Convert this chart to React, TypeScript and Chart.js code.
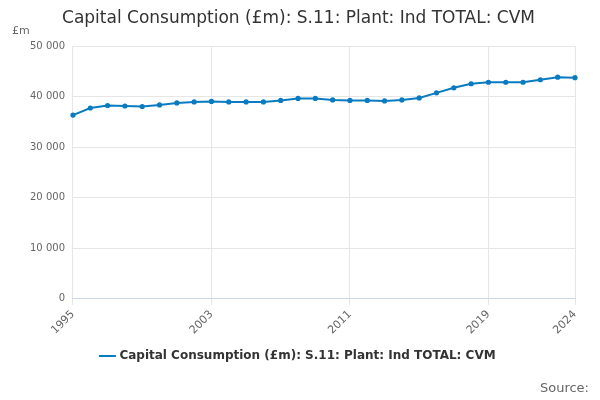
import React, { useEffect, useRef } from "react";
import { Chart, registerables } from "chart.js";
Chart.register(...registerables);

const years = Array.from({ length: 30 }, (_, i) => String(1995 + i));
const values = [36400, 37800, 38300, 38200, 38100, 38400, 38800, 39000, 39100, 39000, 39000, 39000, 39300, 39700, 39700, 39400, 39300, 39300, 39200, 39400, 39800, 40800, 41800, 42600, 42900, 42900, 42900, 43400, 43900, 43800];
const shownYears = ["1995", "2003", "2011", "2019", "2024"];
const seriesName = "Capital Consumption (£m): S.11: Plant: Ind TOTAL: CVM";
const F = "'DejaVu Sans', Verdana, sans-serif";

export default function App() {
  const ref = useRef<HTMLCanvasElement>(null);
  useEffect(() => {
    const ch = new Chart(ref.current!, {
      type: "line",
      data: {
        labels: years,
        datasets: [{
          label: seriesName, data: values, borderColor: "#0a7bc1", backgroundColor: "#0a7bc1",
          borderWidth: 2, pointRadius: 1.6, pointHoverRadius: 3, tension: 0,
        }],
      },
      options: {
        animation: false, responsive: false,
        layout: { padding: { left: 22, right: 25, top: 4, bottom: 28 } },
        plugins: {
          title: { display: true, text: "Capital Consumption (£m): S.11: Plant: Ind TOTAL: CVM", color: "#333", font: { family: F, size: 17, weight: "normal" }, padding: { top: 4, bottom: 18 }, align: "center" },
          legend: { position: "bottom", labels: { usePointStyle: true, pointStyle: "line", color: "#333", font: { family: F, size: 12, weight: "bold" } } },
          tooltip: { enabled: false },
        },
        scales: {
          x: {
            offset: false,
            grid: { color: (c: any) => shownYears.includes(years[c.index]) ? "#e6e6e6" : "rgba(0,0,0,0)", drawTicks: true, tickLength: 6 },
            border: { color: "#ccd6eb" },
            ticks: { autoSkip: false, maxRotation: 45, minRotation: 45, color: "#666", font: { family: F, size: 11 },
              callback: (_v: any, i: number) => shownYears.includes(years[i]) ? years[i] : "" },
          },
          y: {
            min: 0, max: 50000,
            ticks: { stepSize: 10000, color: "#666", font: { family: F, size: 10 }, padding: 8,
              callback: (v: any) => Number(v) === 0 ? "0" : String(v).replace(/(\d+)(\d{3})$/, "$1 $2") },
            grid: { color: "#e6e6e6", drawTicks: false },
            border: { display: false },
          },
        },
      },
    });
    return () => ch.destroy();
  }, []);
  return (
    <div style={{ position: "fixed", left: 0, top: 0, width: 600, height: 400, background: "#fff" }}>
      <canvas ref={ref} width={600} height={400} />
      <div style={{ position: "absolute", left: 12, top: 24, font: `11px ${F}`, color: "#666" }}>£m</div>
      <div style={{ position: "absolute", right: 11, top: 380, font: `13px ${F}`, color: "#666" }}>Source:</div>
    </div>
  );
}
